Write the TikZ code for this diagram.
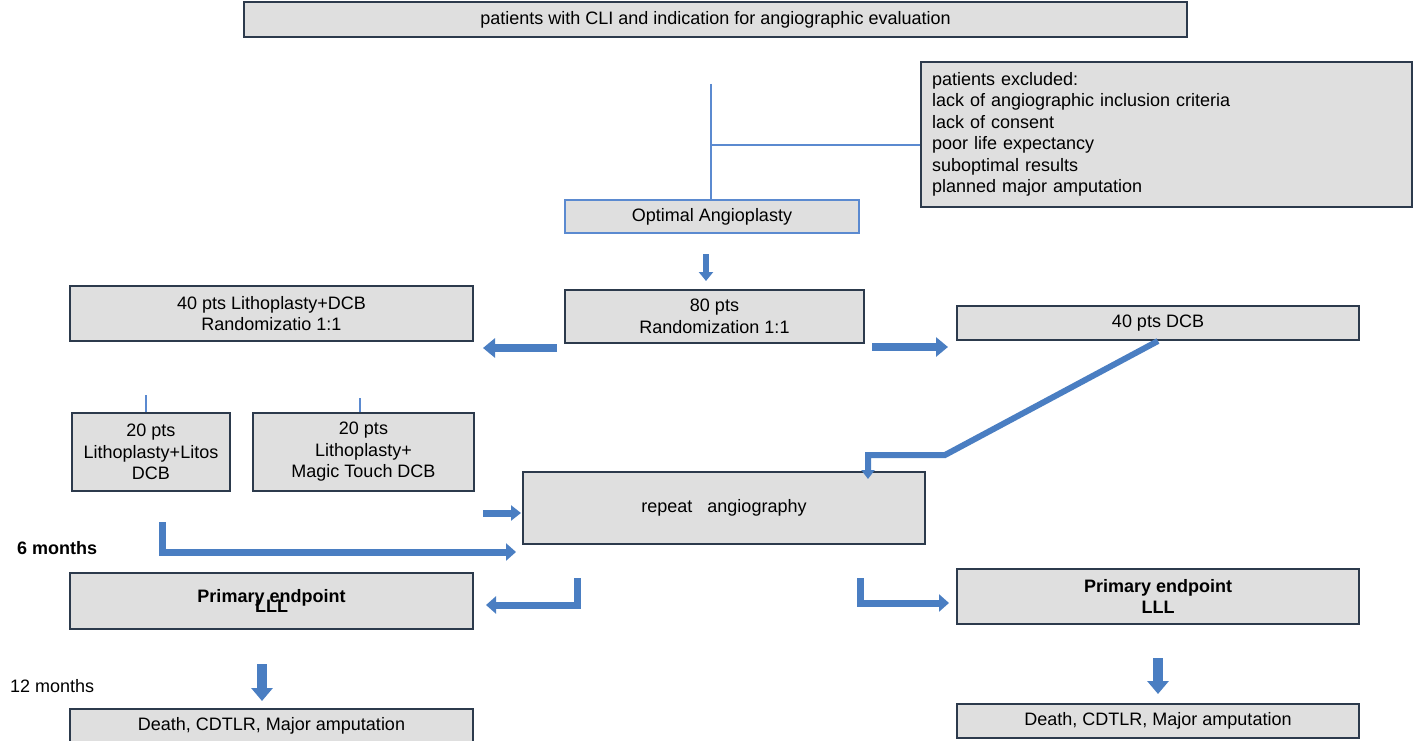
\documentclass[tikz,border=0pt]{standalone}
\usepackage{fontspec}
\setmainfont{Liberation Sans}
\usetikzlibrary{arrows.meta,calc}
\definecolor{boxfill}{HTML}{DFDFDF}
\definecolor{boxedge}{HTML}{2C3A4C}
\definecolor{ablue}{HTML}{4A7EC2}
\definecolor{lblue}{HTML}{5B8AD0}
\begin{document}
\begin{tikzpicture}[x=1pt,y=-1pt,
  box/.style={draw=boxedge, line width=2pt, fill=boxfill, inner sep=0pt, align=center,
    font=\fontsize{18}{21.5}\selectfont},
  bluebox/.style={box, draw=lblue},
  barrow/.style={draw=ablue, line width=7pt, line join=miter, line cap=butt,
    -{Triangle[width=17pt,length=10pt]}},
  bigarrow/.style={draw=ablue, line width=10pt, -{Triangle[width=21pt,length=13pt]}},
  thinline/.style={draw=lblue, line width=2pt},
  lbl/.style={anchor=west, inner sep=0pt, font=\fontsize{18}{21.5}\selectfont}]
\useasboundingbox (0,0) rectangle (1416,741);

% boxes
\node[box, minimum width=943, minimum height=35] (top) at (715.5,19.5)
  {patients with CLI and indication for angiographic evaluation};
\node[box, minimum width=491, minimum height=145, text width=469, inner xsep=11pt, align=left] (excl) at (1166.5,134.5)
  {patients excluded:\\lack of angiographic inclusion criteria\\lack of consent\\poor life expectancy\\suboptimal results\\planned major amputation};
\node[bluebox, minimum width=294, minimum height=33] (opt) at (712,216.5) {Optimal Angioplasty};
\node[box, minimum width=299, minimum height=53] (r80) at (714.5,316.5) {80 pts\\Randomization 1:1};
\node[box, minimum width=403, minimum height=55] (lith) at (271.5,313.5) {40 pts Lithoplasty+DCB\\Randomizatio 1:1};
\node[box, minimum width=402, minimum height=34] (dcb) at (1158,323) {40 pts DCB};
\node[box, minimum width=158, minimum height=78] (litos) at (151,452) {20 pts\\Lithoplasty+Litos\\DCB};
\node[box, minimum width=221, minimum height=78] (magic) at (363.5,452) {20 pts\\Lithoplasty+\\Magic Touch DCB};
\node[box, minimum width=402, minimum height=72] (rep) at (724,508) {repeat\ \ \ angiography};
\node[box, minimum width=403, minimum height=56] (pel) at (271.5,601) {\bfseries Primary endpoint\\[-11pt]\bfseries LLL};
\node[box, minimum width=402, minimum height=55] (per) at (1158,596.5) {\bfseries Primary endpoint\\\bfseries LLL};
\node[box, minimum width=403, minimum height=34] (dl) at (271.5,726) {Death, CDTLR, Major amputation};
\node[box, minimum width=402, minimum height=34] (dr) at (1158,721) {Death, CDTLR, Major amputation};

% labels
\node[lbl, font=\fontsize{18}{21.5}\selectfont\bfseries] (m6) at (17,548) {6 months};
\node[lbl] (m12) at (10,686) {12 months};

% thin connectors
\coordinate (vt) at (711,84);
\coordinate (hj) at (711,145);
\draw[thinline] (vt) -- (vt |- opt.north);
\draw[thinline] (hj) -- (hj -| excl.west);
\coordinate (t1) at (146,395);
\coordinate (t2) at (360,398);
\draw[thinline] (t1) -- (t1 |- litos.north);
\draw[thinline] (t2) -- (t2 |- magic.north);

% block arrows
\coordinate (a1s) at (706,254);
\coordinate (a1e) at (706,281);
\draw[barrow, line width=6pt, -{Triangle[width=14pt,length=9pt]}] (a1s) -- (a1e);

\coordinate (a2s) at (557,348);
\coordinate (a2e) at (483,348);
\draw[barrow, line width=8pt, -{Triangle[width=19pt,length=12pt]}] (a2s) -- (a2e);

\coordinate (a3s) at (872,347);
\coordinate (a3e) at (948,347);
\draw[barrow, line width=8pt, -{Triangle[width=19pt,length=12pt]}] (a3s) -- (a3e);

\coordinate (k1) at (945,455);
\coordinate (k2) at (868,455);
\draw[barrow, line width=6pt, -{Triangle[width=13pt,length=9pt]}] (dcb.south) -- (k1) -- (k2) -- ($(k2 |- rep.north)+(0,8)$);

\coordinate (a4s) at (483,513);
\coordinate (a4e) at (521,513);
\draw[barrow, line width=7pt, -{Triangle[width=15pt,length=10pt]}] (a4s) -- (a4e);

\coordinate (a5s) at (162,522);
\coordinate (a5c) at (162,552);
\coordinate (a5e) at (516,552);
\draw[barrow] (a5s) -- (a5c) -- (a5e);

\coordinate (a6s) at (577,578);
\coordinate (a6c) at (577,605);
\coordinate (a6e) at (486,605);
\draw[barrow] (a6s) -- (a6c) -- (a6e);

\coordinate (a7s) at (860,578);
\coordinate (a7c) at (860,603);
\coordinate (a7e) at (949,603);
\draw[barrow] (a7s) -- (a7c) -- (a7e);

\coordinate (a8s) at (262,664);
\coordinate (a8e) at (262,701);
\draw[bigarrow] (a8s) -- (a8e);

\coordinate (a9s) at (1158,658);
\coordinate (a9e) at (1158,694);
\draw[bigarrow] (a9s) -- (a9e);
\end{tikzpicture}
\end{document}
